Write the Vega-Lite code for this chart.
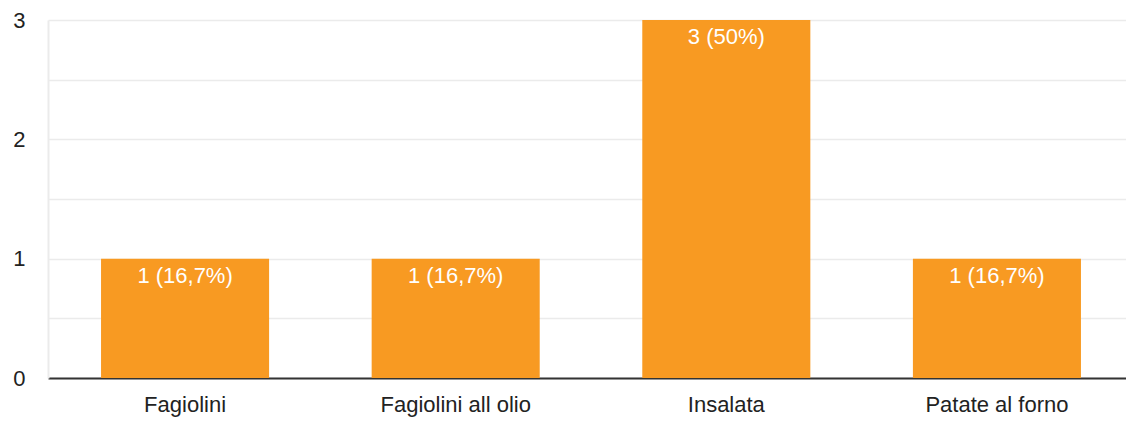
{
  "$schema": "https://vega.github.io/schema/vega-lite/v6.json",
  "width": 1086,
  "height": 358,
  "autosize": {"type": "none"},
  "padding": {"left": 48, "top": 20, "right": 0, "bottom": 43},
  "background": "white",
  "config": {"view": {"stroke": null}, "font": "Liberation Sans"},
  "data": {"values": [
    {"piatto": "Fagiolini", "n": 1, "label": "1 (16,7%)"},
    {"piatto": "Fagiolini all olio", "n": 1, "label": "1 (16,7%)"},
    {"piatto": "Insalata", "n": 3, "label": "3 (50%)"},
    {"piatto": "Patate al forno", "n": 1, "label": "1 (16,7%)"}
  ]},
  "encoding": {
    "x": {"field": "piatto", "type": "nominal", "sort": null,
      "scale": {"paddingInner": 0.379, "paddingOuter": 0.196},
      "axis": {"title": null, "labelAngle": 0, "labelFontSize": 22, "labelColor": "#222222", "labelBaseline": "alphabetic", "labelPadding": 33, "ticks": false, "domainColor": "#333333", "domainWidth": 2, "grid": false, "labelFont": "Liberation Sans"}},
    "y": {"field": "n", "type": "quantitative",
      "scale": {"domain": [0, 3], "nice": false},
      "axis": {"title": null, "values": [0, 0.5, 1, 1.5, 2, 2.5, 3], "labelExpr": "datum.value % 1 == 0 ? format(datum.value, 'd') : ''", "labelFontSize": 22, "labelColor": "#222222", "labelPadding": 23, "ticks": false, "domainColor": "#ebebeb", "domainWidth": 2, "gridColor": "#ebebeb", "gridWidth": 1.5, "labelFont": "Liberation Sans"}}
  },
  "layer": [
    {"mark": {"type": "bar", "color": "#F89A22"}},
    {"mark": {"type": "text", "color": "white", "fontSize": 22, "baseline": "alphabetic", "dy": 24, "font": "Liberation Sans"},
      "encoding": {"text": {"field": "label"}}}
  ]
}
